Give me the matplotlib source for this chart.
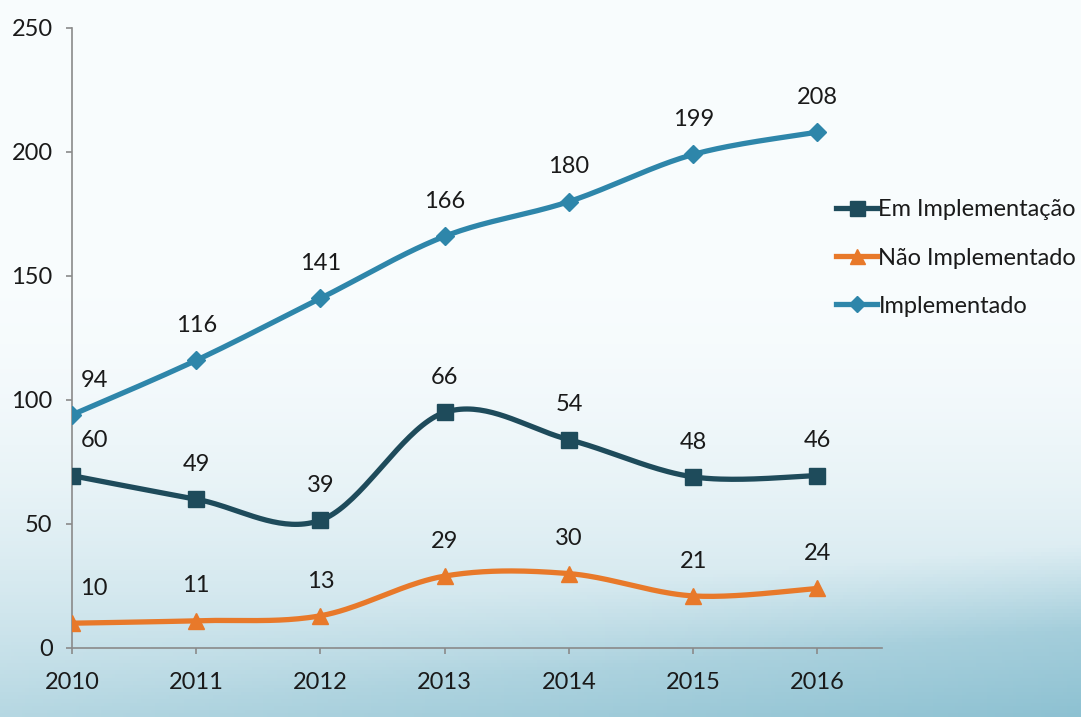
import matplotlib
matplotlib.use('Agg')
import matplotlib.pyplot as plt
import numpy as np

plt.rcParams['font.family'] = ['Lato', 'DejaVu Sans']

anos = [2010, 2011, 2012, 2013, 2014, 2015, 2016]

# pontos como aparecem no gráfico e rótulos escritos ao lado
em_impl_pos = [69.5, 60, 51.5, 95, 84, 69, 69.5]
em_impl_rot = [60, 49, 39, 66, 54, 48, 46]
nao_impl = [10, 11, 13, 29, 30, 21, 24]
impl = [94, 116, 141, 166, 180, 199, 208]

series = [
    ('Em Implementação', em_impl_pos, em_impl_rot, '#1e4b5b', 's', 12),
    ('Não Implementado', nao_impl, nao_impl, '#e8792a', '^', 12),
    ('Implementado', impl, impl, '#2e86aa', 'D', 9.5),
]


def suaviza(x, y, n=40):
    """curva suave tipo Excel (bezier com pontos de controle catmull-rom)"""
    x = np.asarray(x, float)
    y = np.asarray(y, float)
    px = np.concatenate([[x[0]], x, [x[-1]]])
    py = np.concatenate([[y[0]], y, [y[-1]]])
    xs, ys = [], []
    t = np.linspace(0, 1, n)
    for i in range(1, len(px) - 2):
        p0 = np.array([px[i], py[i]])
        p3 = np.array([px[i + 1], py[i + 1]])
        c1 = p0 + (np.array([px[i + 1], py[i + 1]]) - np.array([px[i - 1], py[i - 1]])) / 6
        c2 = p3 - (np.array([px[i + 2], py[i + 2]]) - np.array([px[i], py[i]])) / 6
        b = ((1 - t) ** 3)[:, None] * p0 + (3 * (1 - t) ** 2 * t)[:, None] * c1 \
            + (3 * (1 - t) * t ** 2)[:, None] * c2 + (t ** 3)[:, None] * p3
        xs.append(b[:, 0])
        ys.append(b[:, 1])
    return np.concatenate(xs), np.concatenate(ys)


fig = plt.figure(figsize=(10.81, 7.17), dpi=100)

# fundo degradê azul claro
bg = fig.add_axes([0, 0, 1, 1], zorder=-10)
h, w = 200, 300
yy, xx = np.mgrid[0:h, 0:w]
fy = yy / (h - 1)
fx = xx / (w - 1)
s = np.clip((fy - 0.35) / 0.65, 0, 1) ** 2.0 * 0.5
onda = np.clip((fy - 0.88 + 0.12 * fx) / 0.12, 0, 1) * 0.3 * fx
s = s + onda
topo = np.array([0.975, 0.99, 0.995])
base = np.array([0.45, 0.70, 0.78])
img = topo[None, None, :] * (1 - s[..., None]) + base[None, None, :] * s[..., None]
bg.imshow(img, aspect='auto', extent=[0, 1, 0, 1], origin='upper')
bg.set_axis_off()

ax = fig.add_axes([72 / 1081, 69 / 717, (882 - 72) / 1081, 620 / 717])
ax.patch.set_alpha(0)

for nome, vals, rots, cor, mk, ms in series:
    xs, ys = suaviza(anos, vals)
    ax.plot(xs, ys, color=cor, lw=3.8, solid_capstyle='round', zorder=3)
    ax.plot(anos, vals, linestyle='none', marker=mk, color=cor, ms=ms, zorder=4)
    for i, (a, v, r) in enumerate(zip(anos, vals, rots)):
        dx = 16 if i == 0 else 0
        ax.annotate(str(r), (a, v), xytext=(dx, 25), textcoords='offset points',
                    ha='center', va='center', fontsize=17, color='#1a1a1a')

# legenda (traço + marcador)
for nome, vals, rots, cor, mk, ms in series:
    ax.plot([], [], color=cor, lw=3.8, marker=mk, ms=ms * 0.9, label=nome)
handles, labels = ax.get_legend_handles_labels()
fig.legend(handles[-3:], labels[-3:], loc='center left',
           bbox_to_anchor=(836 / 1081, (717 - 258) / 717), frameon=False,
           fontsize=17, handlelength=1.75, handletextpad=0.05, labelspacing=1.15,
           borderpad=0, borderaxespad=0, labelcolor='#1a1a1a')

ax.set_xlim(2010, 2016.52)
ax.set_ylim(0, 250)
ax.set_xticks(anos)
ax.set_xticklabels([str(a) for a in anos])
ax.set_yticks([0, 50, 100, 150, 200, 250])
for sp in ['top', 'right']:
    ax.spines[sp].set_visible(False)
for sp in ['left', 'bottom']:
    ax.spines[sp].set_color('#8a8a8a')
    ax.spines[sp].set_linewidth(1.2)
ax.tick_params(axis='both', colors='#8a8a8a', length=4, width=1.2, labelcolor='#1a1a1a', labelsize=17)
ax.tick_params(axis='y', pad=10)
ax.tick_params(axis='x', pad=13)

fig.savefig('out.png', dpi=100)
